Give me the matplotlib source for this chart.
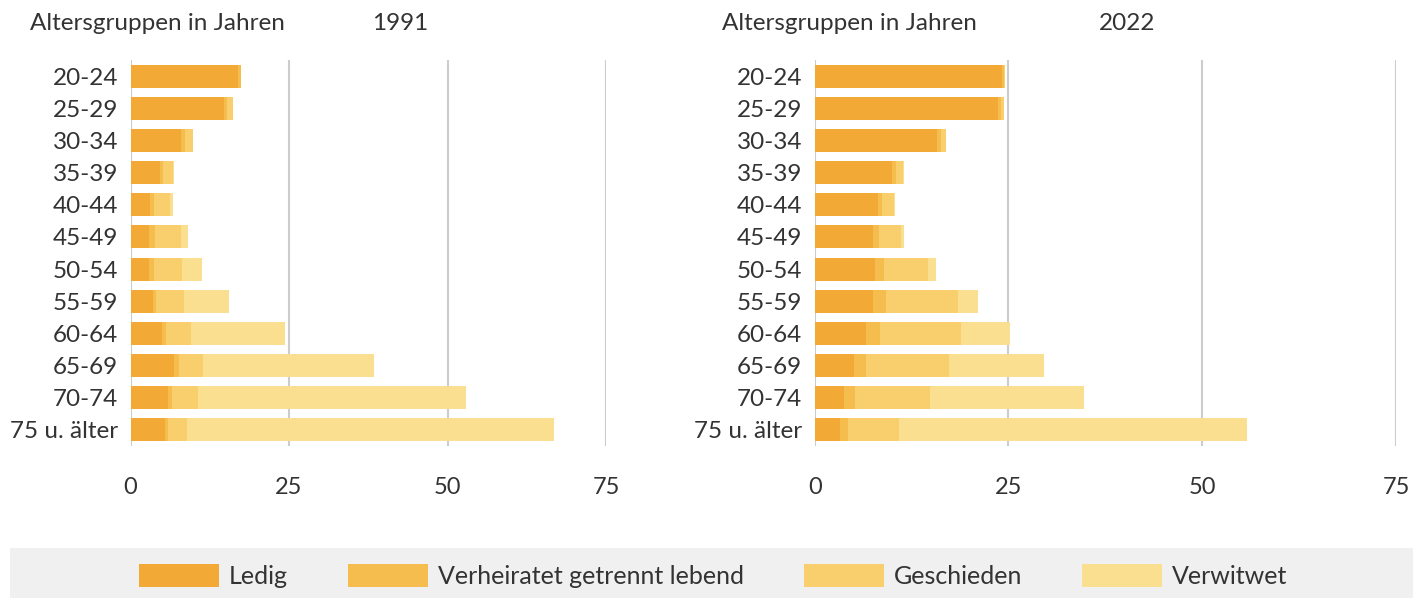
import matplotlib
matplotlib.use("Agg")
import matplotlib.pyplot as plt
import numpy as np
from matplotlib.patches import Rectangle

plt.rcParams['font.family'] = ['Lato', 'DejaVu Sans']

groups = ["20-24", "25-29", "30-34", "35-39", "40-44", "45-49", "50-54",
          "55-59", "60-64", "65-69", "70-74", "75 u. älter"]
series_names = ["Ledig", "Verheiratet getrennt lebend", "Geschieden", "Verwitwet"]
colors = ["#F3A935", "#F5BD4E", "#F9CE6D", "#FBDF90"]

# 1991
ledig_1991 = [17.0, 14.8, 8.0, 4.7, 3.1, 2.9, 2.9, 3.6, 5.0, 6.9, 5.9, 5.5]
getrennt_1991 = [0.4, 0.45, 0.6, 0.35, 0.6, 0.95, 0.8, 0.5, 0.6, 0.8, 0.65, 0.45]
geschieden_1991 = [0.05, 0.95, 1.25, 1.65, 2.5, 4.1, 4.4, 4.3, 3.95, 3.8, 4.1, 3.0]
verwitwet_1991 = [0.0, 0.0, 0.05, 0.2, 0.45, 1.1, 3.15, 7.1, 14.85, 26.85, 42.2, 57.8]

# 2022
ledig_2022 = [24.2, 23.65, 15.8, 10.0, 8.15, 7.5, 7.8, 7.5, 6.6, 5.1, 3.8, 3.3]
getrennt_2022 = [0.25, 0.45, 0.5, 0.5, 0.5, 0.8, 1.15, 1.7, 1.8, 1.55, 1.4, 1.0]
geschieden_2022 = [0.05, 0.35, 0.65, 0.9, 1.55, 2.8, 5.7, 9.3, 10.45, 10.7, 9.7, 6.6]
verwitwet_2022 = [0.0, 0.0, 0.0, 0.15, 0.1, 0.4, 1.0, 2.6, 6.3, 12.25, 19.9, 44.9]

xticks = [0, 25, 50, 75]

W, H = 1426, 600
FS = 17
fig = plt.figure(figsize=(W / 100, H / 100), dpi=100)

def draw(ax_rect, data, title_year, title_x, year_x):
    ax = fig.add_axes(ax_rect)
    y = np.arange(len(groups))
    left = np.zeros(len(groups))
    for vals, c, name in zip(data, colors, series_names):
        ax.barh(y, vals, left=left, color=c, height=0.72, label=name, zorder=3)
        left = left + np.array(vals)
    ax.set_xlim(0, 75)
    ax.set_ylim(len(groups) - 0.5, -0.5)
    ax.set_yticks(y)
    ax.set_yticklabels(groups, fontsize=FS + 0.5, color="#333333")
    ax.set_xticks(xticks)
    ax.set_xticklabels([str(t) for t in xticks], fontsize=FS, color="#333333")
    ax.tick_params(axis="both", length=0)
    ax.tick_params(axis="y", pad=9)
    ax.tick_params(axis="x", pad=22)
    for s in ax.spines.values():
        s.set_visible(False)
    ax.grid(axis="x", color="#CCCCCC", linewidth=1.5, zorder=0)
    ax.set_axisbelow(True)
    fig.text(title_x / W, 1 - 24 / H, "Altersgruppen in Jahren", fontsize=FS + 0.5,
             color="#333333", ha="left", va="center")
    fig.text(year_x / W, 1 - 24 / H, title_year, fontsize=FS + 0.5,
             color="#333333", ha="center", va="center")
    return ax

top, bottom = 60, 446
ax1 = draw([130.5 / W, 1 - bottom / H, (606 - 130.5) / W, (bottom - top) / H],
           [ledig_1991, getrennt_1991, geschieden_1991, verwitwet_1991],
           "1991", 30, 400)
ax2 = draw([814.7 / W, 1 - bottom / H, (1396 - 814.7) / W, (bottom - top) / H],
           [ledig_2022, getrennt_2022, geschieden_2022, verwitwet_2022],
           "2022", 722, 1127)

# legend background
fig.patches.append(Rectangle((10 / W, 2 / H), 1403 / W, 50 / H,
                             transform=fig.transFigure, facecolor="#F0F0F0",
                             edgecolor="none", zorder=0))
handles, labels = ax1.get_legend_handles_labels()
leg = fig.legend(handles, labels, loc="center", bbox_to_anchor=(0.5, 24 / H),
                 ncol=4, frameon=False, fontsize=FS + 1, handlelength=3.2,
                 handleheight=1.0, handletextpad=0.4, columnspacing=2.4,
                 labelcolor="#333333")

fig.savefig("out.png", dpi=100)
